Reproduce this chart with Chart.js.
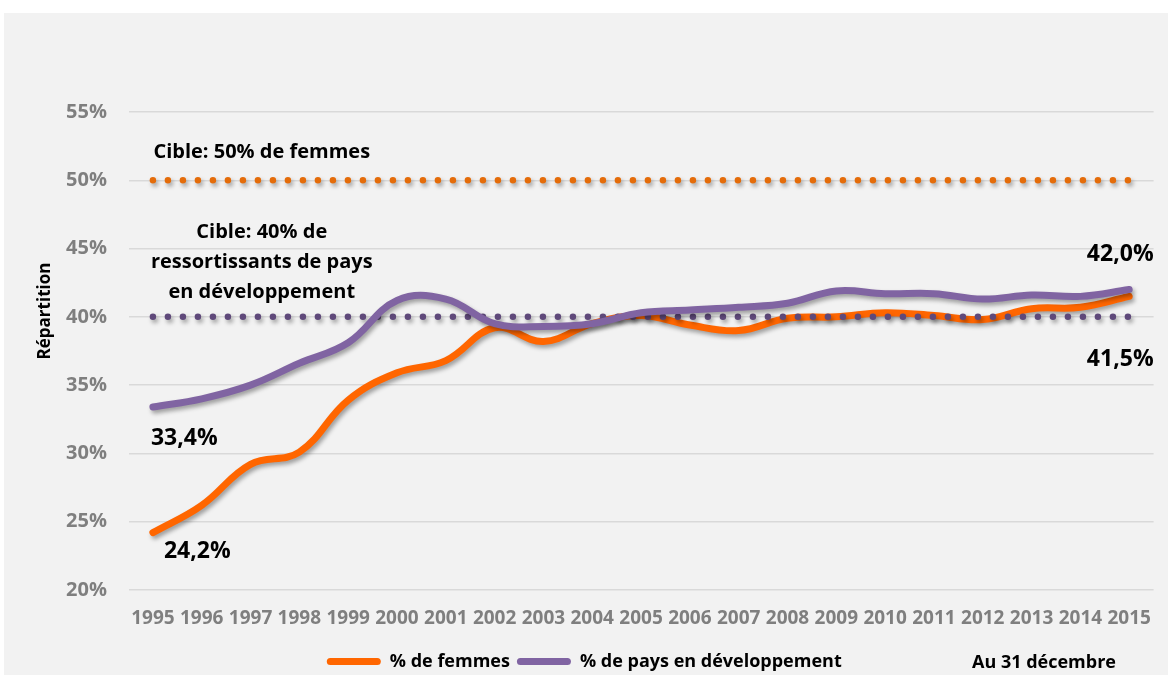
<!DOCTYPE html>
<html>
<head>
<meta charset="utf-8">
<script src="https://cdn.jsdelivr.net/npm/chart.js@4"></script>
<style>
  html, body { margin: 0; padding: 0; background: #fff; overflow: hidden; }
  #wrap { position: absolute; left: 4px; top: 13px; width: 1164px; height: 662px; background: #f2f2f2; }
</style>
</head>
<body>
<div id="wrap"><canvas id="chart"></canvas></div>
<script>
const years = ['1995','1996','1997','1998','1999','2000','2001','2002','2003','2004','2005',
               '2006','2007','2008','2009','2010','2011','2012','2013','2014','2015'];
const femmes = [24.2, 26.2, 29.2, 30.1, 33.9, 35.9, 36.8, 39.2, 38.2, 39.5, 40.1,
                39.4, 39.0, 39.9, 40.0, 40.3, 40.1, 39.8, 40.6, 40.7, 41.5];
const pays = [33.4, 34.0, 35.0, 36.6, 38.1, 41.2, 41.3, 39.5, 39.3, 39.5, 40.3,
              40.5, 40.7, 41.0, 41.9, 41.7, 41.7, 41.3, 41.6, 41.5, 42.0];
const cibleFemmes = [50,50,50,50,50,50,50,50,50,50,50,50,50,50,50,50,50,50,50,50,50];
const ciblePays = [40,40,40,40,40,40,40,40,40,40,40,40,40,40,40,40,40,40,40,40,40];
const yTicks = [20, 25, 30, 35, 40, 45, 50, 55];

const FONT = '"Open Sans", sans-serif';

function fmt(v) {
  return v.toFixed(1).replace('.', ',') + '%';
}

// soft shadow under every line, like the original
const shadowPlugin = {
  id: 'shadow',
  beforeDatasetDraw(chart) {
    const ctx = chart.ctx;
    ctx.save();
    ctx.shadowColor = 'rgba(0,0,0,0.35)';
    ctx.shadowBlur = 4;
    ctx.shadowOffsetX = 2;
    ctx.shadowOffsetY = 3;
  },
  afterDatasetDraw(chart) {
    chart.ctx.restore();
  }
};

// texts: targets, end labels, axis title, date note
const textPlugin = {
  id: 'texts',
  afterDraw(chart) {
    const ctx = chart.ctx;
    const x = chart.scales.x, y = chart.scales.y;
    const last = years.length - 1;
    ctx.save();
    ctx.fillStyle = '#000';
    ctx.textBaseline = 'middle';

    // target captions
    ctx.font = 'bold 20px ' + FONT;
    ctx.textAlign = 'center';
    const cx = x.getPixelForValue(2.23);
    ctx.fillText('Cible: 50% de femmes', cx, y.getPixelForValue(52.06));
    ctx.fillText('Cible: 40% de', cx, y.getPixelForValue(46.2));
    ctx.fillText('ressortissants de pays', cx, y.getPixelForValue(44.0));
    ctx.fillText('en développement', cx, y.getPixelForValue(41.8));

    // first / last values
    ctx.font = 'bold 23px ' + FONT;
    ctx.textAlign = 'left';
    ctx.fillText(fmt(pays[0]), x.getPixelForValue(0) - 2, y.getPixelForValue(pays[0] - 2.3));
    ctx.fillText(fmt(femmes[0]), x.getPixelForValue(0) + 11, y.getPixelForValue(femmes[0] - 1.35));
    ctx.textAlign = 'right';
    ctx.fillText(fmt(pays[last]), x.right, y.getPixelForValue(pays[last] + 2.6));
    ctx.fillText(fmt(femmes[last]), x.right, y.getPixelForValue(femmes[last] - 4.6));

    // axis title
    ctx.font = 'bold 17px ' + FONT;
    ctx.textAlign = 'center';
    ctx.save();
    ctx.translate(41, 298);
    ctx.rotate(-Math.PI / 2);
    ctx.fillText('Répartition', 0, 0);
    ctx.restore();

    // note at bottom right
    ctx.font = 'bold 18px ' + FONT;
    ctx.fillText('Au 31 décembre', 1040, 650);
    ctx.restore();
  }
};

const ctx = document.getElementById('chart').getContext('2d');

new Chart(ctx, {
  type: 'line',
  data: {
    labels: years,
    datasets: [{
      label: '% de femmes',
      data: femmes,
      borderColor: '#ff6600',
      backgroundColor: '#ff6600',
      borderWidth: 7,
      borderCapStyle: 'round',
      borderJoinStyle: 'round',
      tension: 0.4,
      pointRadius: 0,
      order: 2
    }, {
      label: '% de pays en développement',
      data: pays,
      borderColor: '#8064a2',
      backgroundColor: '#8064a2',
      borderWidth: 7,
      borderCapStyle: 'round',
      borderJoinStyle: 'round',
      tension: 0.4,
      pointRadius: 0,
      order: 0
    }, {
      label: 'Cible femmes',
      data: cibleFemmes,
      borderColor: '#e46c0a',
      borderWidth: 6.5,
      borderDash: [0, 15],
      borderCapStyle: 'round',
      pointRadius: 0,
      order: 1
    }, {
      label: 'Cible pays',
      data: ciblePays,
      borderColor: '#5f497a',
      borderWidth: 6.5,
      borderDash: [0, 15],
      borderCapStyle: 'round',
      pointRadius: 0,
      order: 1
    }]
  },
  options: {
    responsive: true,
    maintainAspectRatio: false,
    animation: false,
    layout: { padding: { left: 0, right: 3.5, top: 99, bottom: -5.5 } },
    plugins: {
      tooltip: { enabled: false },
      legend: {
        position: 'bottom',
        labels: {
          generateLabels: (chart) => Chart.defaults.plugins.legend.labels.generateLabels(chart)
            .map(item => Object.assign(item, { lineWidth: 0 })),
          filter: (item) => item.datasetIndex < 2,
          sort: (a, b) => a.datasetIndex - b.datasetIndex,
          boxWidth: 54,
          boxHeight: 7,
          useBorderRadius: true,
          borderRadius: 3.5,
          padding: 7,
          color: '#000',
          font: { family: FONT, size: 18, weight: 'bold' }
        }
      }
    },
    scales: {
      x: {
        offset: true,
        grid: { display: false, drawTicks: false },
        border: { display: false },
        ticks: {
          autoSkip: false,
          maxRotation: 0,
          padding: 17,
          color: '#7f7f7f',
          font: { family: FONT, size: 19, weight: 'bold' }
        },
        afterFit(s) { s.height = 55.5; }
      },
      y: {
        min: 20,
        max: 55,
        afterBuildTicks(s) { s.ticks = yTicks.map(v => ({ value: v })); },
        grid: { color: '#d9d9d9', lineWidth: 1.5, drawTicks: false },
        border: { display: false },
        ticks: {
          padding: 21.5,
          color: '#7f7f7f',
          font: { family: FONT, size: 20, weight: 'bold' },
          callback: (v) => v + '%'
        },
        afterFit(s) { s.width = 124.5; }
      }
    }
  },
  plugins: [shadowPlugin, textPlugin]
});
</script>
</body>
</html>
